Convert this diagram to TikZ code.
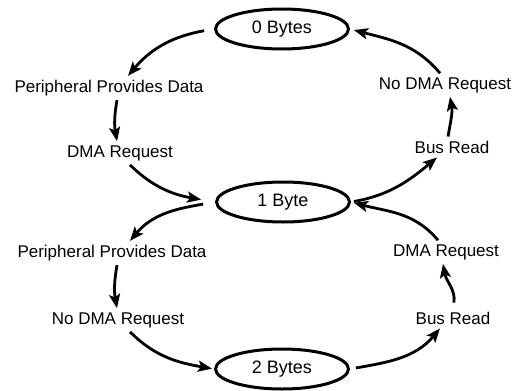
\documentclass[tikz,border=0pt]{standalone}
\usepackage{fontspec}
\setmainfont{Liberation Sans}
\usetikzlibrary{positioning,arrows.meta,shapes.geometric}

\tikzset{
    count/.style={draw, ellipse, line width=3pt, minimum width=133pt, minimum height=40pt, inner sep=0pt,
        font=\fontsize{18}{20}\selectfont},
    event/.style={inner sep=4pt},
    flow/.style={line width=2.8pt, -{Stealth[length=14pt,width=11pt,inset=3pt]}},
}

\begin{document}
\begin{tikzpicture}[x=1pt, y=1pt, font=\fontsize{17}{20}\selectfont, on grid]
    \useasboundingbox (0,0) rectangle (520,-391);
    % byte counts
    \node[count] (zero) at (282,-29) {0 Bytes};
    \node[count, below right=173pt and 1pt of zero] (one) {1 Byte};
    \node[count, below=340pt of zero] (two) {2 Bytes};
    % left side, filling
    \node[event, below left=59pt and 173pt of zero] (ppdA) {Peripheral Provides Data};
    \node[event, below right=65pt and 11pt of ppdA] (dmaA) {DMA Request};
    \node[event, below left=51pt and 171pt of one] (ppdB) {Peripheral Provides Data};
    \node[event, below right=67pt and 6pt of ppdB] (nodmaB) {No DMA Request};
    % right side, emptying
    \node[event, below right=56pt and 163pt of zero] (nodmaA) {No DMA Request};
    \node[event, below right=62pt and 7pt of nodmaA] (busA) {Bus Read};
    \node[event, below right=50pt and 163pt of one] (dmaB) {DMA Request};
    \node[event, below right=66pt and 7pt of dmaB] (busB) {Bus Read};

    \draw[flow, shorten <=10pt] (zero.west) to[out=190, in=50] ([xshift=19pt]ppdA.north);
    \draw[flow] ([xshift=8pt]ppdA.south) to[out=260, in=100] ([xshift=-3pt]dmaA.north);
    \draw[flow, shorten >=14pt] ([xshift=10pt]dmaA.south) to[out=-45, in=170] (one.west);
    \draw[flow, shorten <=12pt] (one.west) to[out=190, in=50] ([xshift=18pt]ppdB.north);
    \draw[flow] ([xshift=5pt]ppdB.south) to[out=260, in=100] ([xshift=-1pt]nodmaB.north);
    \draw[flow, shorten >=2pt] ([xshift=12pt]nodmaB.south) to[out=-45, in=170] (two.west);

    \draw[flow, shorten <=6pt] (two.east) to[out=10, in=230] ([xshift=-13pt]busB.south);
    \draw[flow, shorten <=5pt] (busB.north) to[out=80, in=-80] ([xshift=-3pt]dmaB.south);
    \draw[flow, shorten >=3pt] ([xshift=-8pt]dmaB.north) to[out=130, in=-15] (one.east);
    \draw[flow, shorten <=3pt] (one.east) to[out=10, in=220] ([xshift=-15pt]busA.south);
    \draw[flow] ([xshift=-4pt]busA.north) to[out=80, in=-80] ([xshift=5pt]nodmaA.south);
    \draw[flow, shorten >=4pt] ([xshift=-5pt]nodmaA.north) to[out=130, in=-15] (zero.east);
\end{tikzpicture}
\end{document}
